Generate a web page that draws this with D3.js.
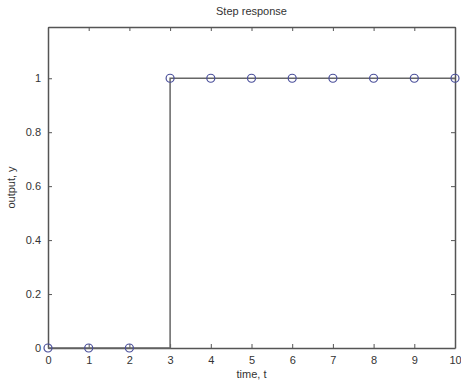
<!DOCTYPE html>
<html>
<head>
<meta charset="utf-8">
<script src="https://cdn.jsdelivr.net/npm/d3@7"></script>
<style>
  body { margin: 0; background: #fff; }
  text { font-family: "Liberation Sans", Arial, sans-serif; fill: #333; }
</style>
</head>
<body>
<div id="chart"></div>
<script>
// data
var t = [0, 1, 2, 3, 4, 5, 6, 7, 8, 9, 10];
var y = [0, 0, 0, 1, 1, 1, 1, 1, 1, 1, 1];
var xTicks = [0, 1, 2, 3, 4, 5, 6, 7, 8, 9, 10];
var yTicks = [0, 0.2, 0.4, 0.6, 0.8, 1];

var margin = {top: 27, right: 6, bottom: 33, left: 48},
    width = 461 - margin.left - margin.right,
    height = 381 - margin.top - margin.bottom;

var svg = d3.select("#chart")
  .append("svg")
  .attr("width", 461)
  .attr("height", 381)
  .append("g")
  .attr("transform", "translate(" + margin.left + "," + margin.top + ")");

var x = d3.scaleLinear().domain([0, 10]).range([0, width]);
var yS = d3.scaleLinear().domain([0, 1.19]).range([height, 0]);

var axColor = "#555";

// axes with inward ticks
var gx = svg.append("g")
  .attr("transform", "translate(0," + height + ")")
  .call(d3.axisBottom(x).tickValues(xTicks).tickSizeInner(-4).tickSizeOuter(0).tickPadding(8).tickFormat(d3.format("d")));
var gxTop = svg.append("g")
  .call(d3.axisTop(x).tickValues(xTicks).tickSizeInner(-4).tickSizeOuter(0).tickFormat(""));
var gy = svg.append("g")
  .call(d3.axisLeft(yS).tickValues(yTicks).tickSizeInner(-4).tickSizeOuter(0).tickPadding(7).tickFormat(d3.format("~g")));
var gyR = svg.append("g")
  .attr("transform", "translate(" + width + ",0)")
  .call(d3.axisRight(yS).tickValues(yTicks).tickSizeInner(-4).tickSizeOuter(0).tickFormat(""));

[gx, gxTop, gy, gyR].forEach(g => {
  g.selectAll("path").attr("stroke", axColor).attr("stroke-width", 1.5);
  g.selectAll("line").attr("stroke", axColor);
  g.selectAll("text").style("font-size", "11px").attr("fill", "#333");
});

// stairs line
var stairs = d3.line()
  .x(d => x(d[0]))
  .y(d => yS(d[1]))
  .curve(d3.curveStepAfter);

svg.append("path")
  .datum(t.map((d, i) => [d, y[i]]))
  .attr("d", stairs)
  .attr("fill", "none")
  .attr("stroke", "#666")
  .attr("stroke-width", 1.5);

// markers
svg.selectAll("circle.pt")
  .data(t)
  .enter()
  .append("circle")
  .attr("class", "pt")
  .attr("cx", d => x(d))
  .attr("cy", (d, i) => yS(y[i]))
  .attr("r", 4)
  .attr("fill", "none")
  .attr("stroke", "#4a4f9a")
  .attr("stroke-width", 1.2);

// title
svg.append("text")
  .attr("x", width / 2)
  .attr("y", -12)
  .attr("text-anchor", "middle")
  .style("font-size", "11px")
  .text("Step response");

// x label
svg.append("text")
  .attr("x", width / 2)
  .attr("y", height + 30)
  .attr("text-anchor", "middle")
  .style("font-size", "11px")
  .text("time, t");

// y label
svg.append("text")
  .attr("transform", "rotate(-90)")
  .attr("x", -height / 2)
  .attr("y", -33)
  .attr("text-anchor", "middle")
  .style("font-size", "11px")
  .text("output, y");
</script>
</body>
</html>
